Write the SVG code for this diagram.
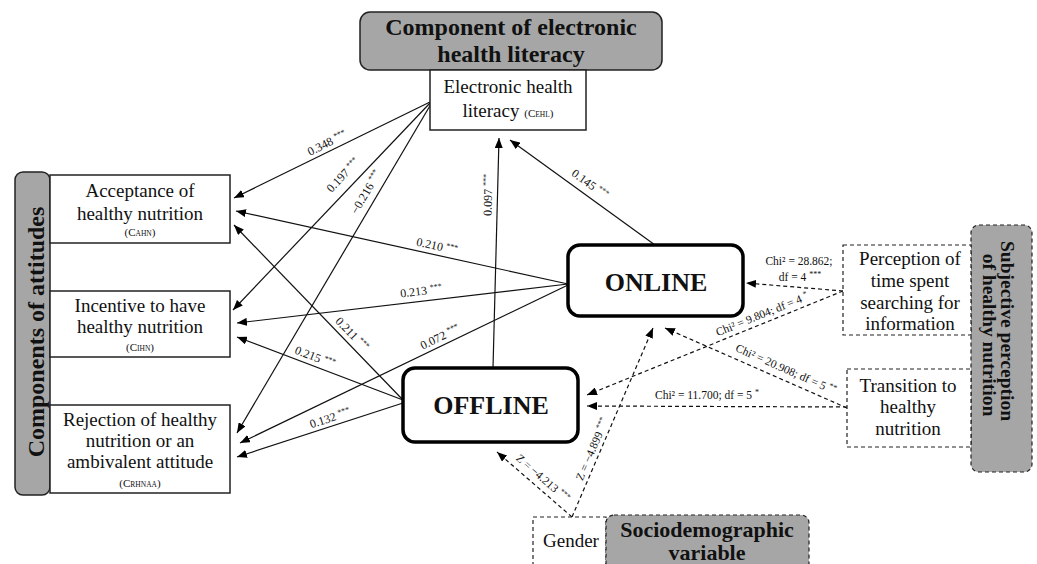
<svg xmlns="http://www.w3.org/2000/svg" width="1037" height="564" viewBox="0 0 1037 564">
<defs>
<marker id="ah" markerWidth="10" markerHeight="8" refX="10" refY="4" orient="auto" markerUnits="userSpaceOnUse"><path d="M0,0 L10,4 L0,8 z" fill="#000"/></marker>
<style>
text{font-family:"Liberation Serif","Times New Roman",serif;fill:#111}
.hd{font-weight:bold;font-size:24px;text-anchor:middle}
.bar{font-weight:bold;text-anchor:middle}
.nt{font-size:19px;text-anchor:middle}
.sm{font-size:11px}
.sub{font-size:7.5px}
.big{font-weight:bold;font-size:26px;text-anchor:middle}
.lb{font-size:12px;text-anchor:middle}
.cl{font-size:11.5px;text-anchor:middle}
.st{font-size:8px}
.gray{fill:#a6a6a6;stroke:#222;stroke-width:1.5}
.box{fill:#fff;stroke:#222;stroke-width:1.5}
.dbox{fill:#fff;stroke:#222;stroke-width:1.2;stroke-dasharray:4 3}
.dgray{fill:#a6a6a6;stroke:#222;stroke-width:1.2;stroke-dasharray:4 3}
.thick{fill:#fff;stroke:#000;stroke-width:3.5}
.e{stroke:#111;stroke-width:1.2;fill:none;marker-end:url(#ah)}
.d{stroke:#111;stroke-width:1.2;fill:none;stroke-dasharray:4 3;marker-end:url(#ah)}
</style>
</defs>
<rect width="1037" height="564" fill="#fff"/>

<g id="connectors">
<path class="e" d="M430,102 L234,198"/>
<path class="e" d="M430,103 L233,310"/>
<path class="e" d="M431,104 L237,433"/>
<path class="e" d="M655,245 L510,140"/>
<path class="e" d="M493,368 L499,138"/>
<path class="e" d="M568,284 L236,211"/>
<path class="e" d="M568,284 L237,323"/>
<path class="e" d="M568,285 L240,443"/>
<path class="e" d="M403,400 L234,225"/>
<path class="e" d="M403,400 L237,337"/>
<path class="e" d="M403,403 L237,457"/>
<path class="d" d="M843,291 L746,283"/>
<path class="d" d="M843,291 L587,395"/>
<path class="d" d="M847,408 L665,328"/>
<path class="d" d="M847,407 L587,406"/>
<path class="d" d="M572,517 L497,452"/>
<path class="d" d="M572,517 L653,328"/>

<text class="lb" transform="translate(327,143) rotate(-26.6)" y="4">0.348 <tspan class="st" dy="-4">***</tspan></text>
<text class="lb" transform="translate(343,175) rotate(-46.6)" y="4">0.197 <tspan class="st" dy="-4">***</tspan></text>
<text class="lb" transform="translate(366,192) rotate(-59.7)" y="4">−0.216 <tspan class="st" dy="-4">***</tspan></text>
<text class="lb" transform="translate(590,184) rotate(35.9)" y="4">0.145 <tspan class="st" dy="-4">***</tspan></text>
<text class="lb" transform="translate(488,195) rotate(-88.5)" y="4">0.097 <tspan class="st" dy="-4">***</tspan></text>
<text class="lb" transform="translate(437,246) rotate(12.4)" y="4">0.210 <tspan class="st" dy="-4">***</tspan></text>
<text class="lb" transform="translate(421,291) rotate(-6.9)" y="4">0.213 <tspan class="st" dy="-4">***</tspan></text>
<text class="lb" transform="translate(440,337) rotate(-25.9)" y="4">0.072 <tspan class="st" dy="-4">***</tspan></text>
<text class="lb" transform="translate(352,334) rotate(46)" y="4">0.211 <tspan class="st" dy="-4">***</tspan></text>
<text class="lb" transform="translate(315,357) rotate(20.8)" y="4">0.215 <tspan class="st" dy="-4">***</tspan></text>
<text class="lb" transform="translate(330,418) rotate(-18)" y="4">0.132 <tspan class="st" dy="-4">***</tspan></text>

<text class="cl" x="799" y="265">Chi² = 28.862;</text>
<text class="cl" x="800" y="281">df = 4 <tspan class="st" dy="-4">***</tspan></text>
<text class="cl" transform="translate(762,314) rotate(-22)" y="4">Chi² = 9.804; df = 4 <tspan class="st" dy="-4">*</tspan></text>
<text class="cl" transform="translate(786,369) rotate(23.7)" y="4">Chi² = 20.908; df = 5 <tspan class="st" dy="-4">**</tspan></text>
<text class="cl" x="707" y="399">Chi² = 11.700; df = 5 <tspan class="st" dy="-4">*</tspan></text>
<text class="cl" transform="translate(543,478) rotate(41)" y="4">Z = −4.213 <tspan class="st" dy="-4">***</tspan></text>
<text class="cl" transform="translate(592,449) rotate(-66.8)" y="4">Z = −4.899 <tspan class="st" dy="-4">***</tspan></text>
</g>

<g id="header-ehl">
<rect class="gray" x="360" y="12" width="302" height="58" rx="10"/>
<text class="hd" x="511" y="35">Component of electronic</text>
<text class="hd" x="511" y="62">health literacy</text>
</g>
<g id="ehl">
<rect class="box" x="430" y="70" width="156" height="60"/>
<text class="nt" x="508" y="93">Electronic health</text>
<text class="nt" x="508" y="117">literacy <tspan class="sm">(C</tspan><tspan class="sub">EHL</tspan><tspan class="sm">)</tspan></text>
</g>

<g id="header-attitudes">
<rect class="gray" x="15" y="172" width="35" height="323" rx="8"/>
<text class="bar" font-size="24" transform="translate(44,332) rotate(-90)">Components of attitudes</text>
</g>
<g id="acceptance">
<rect class="box" x="50" y="175" width="180" height="68"/>
<text class="nt" x="140" y="197">Acceptance of</text>
<text class="nt" x="140" y="220">healthy nutrition</text>
<text class="nt" x="140" y="236"><tspan class="sm">(C</tspan><tspan class="sub">AHN</tspan><tspan class="sm">)</tspan></text>
</g>
<g id="incentive">
<rect class="box" x="50" y="291" width="180" height="66"/>
<text class="nt" x="140" y="312">Incentive to have</text>
<text class="nt" x="140" y="333">healthy nutrition</text>
<text class="nt" x="140" y="351"><tspan class="sm">(C</tspan><tspan class="sub">IHN</tspan><tspan class="sm">)</tspan></text>
</g>
<g id="rejection">
<rect class="box" x="50" y="405" width="180" height="88"/>
<text class="nt" x="140" y="426">Rejection of healthy</text>
<text class="nt" x="140" y="447">nutrition or an</text>
<text class="nt" x="140" y="468">ambivalent attitude</text>
<text class="nt" x="140" y="487"><tspan class="sm">(C</tspan><tspan class="sub">RHNAA</tspan><tspan class="sm">)</tspan></text>
</g>

<g id="online">
<rect class="thick" x="568" y="245" width="175" height="71" rx="12"/>
<text class="big" x="656" y="291">ONLINE</text>
</g>
<g id="offline">
<rect class="thick" x="403" y="368" width="175" height="74" rx="12"/>
<text class="big" x="491" y="414">OFFLINE</text>
</g>

<g id="header-subjective">
<rect class="dgray" x="971" y="225" width="61" height="247" rx="8"/>
<text class="bar" font-size="19.5" transform="translate(1001,331) rotate(90)">Subjective perception</text>
<text class="bar" font-size="19.5" transform="translate(983,335) rotate(90)">of healthy nutrition</text>
</g>
<g id="perception">
<rect class="dbox" x="843" y="245" width="128" height="90"/>
<text class="nt" x="910" y="265">Perception of</text>
<text class="nt" x="910" y="287">time spent</text>
<text class="nt" x="910" y="309">searching for</text>
<text class="nt" x="910" y="330">information</text>
</g>
<g id="transition">
<rect class="dbox" x="847" y="369" width="124" height="78"/>
<text class="nt" x="908" y="392">Transition to</text>
<text class="nt" x="908" y="413">healthy</text>
<text class="nt" x="908" y="435">nutrition</text>
</g>

<g id="gender">
<rect class="dbox" x="533" y="517" width="73" height="60"/>
<text class="nt" x="571" y="547">Gender</text>
</g>
<g id="header-socio">
<rect class="dgray" x="606" y="515" width="203" height="62" rx="8"/>
<text class="bar" font-size="22" x="707" y="537">Sociodemographic</text>
<text class="bar" font-size="22" x="707" y="560">variable</text>
</g>
</svg>
